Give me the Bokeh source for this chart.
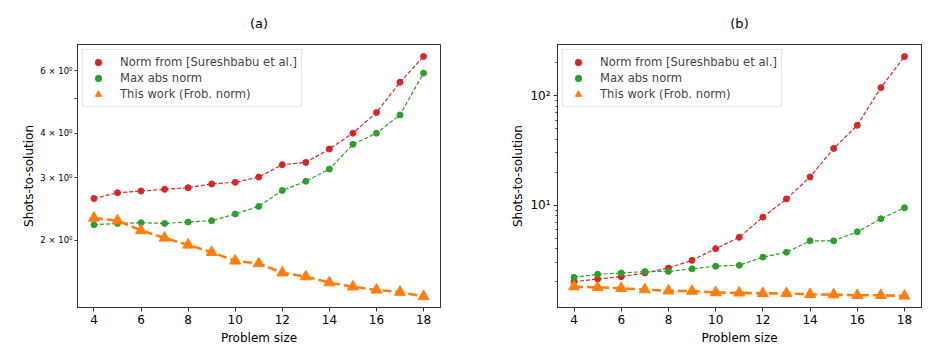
from bokeh.plotting import figure
from bokeh.layouts import row
from bokeh.models import FixedTicker, CustomJSTickFormatter, Range1d, Legend, LegendItem
from bokeh.embed import file_html
from bokeh.resources import INLINE

sizes = list(range(4, 19))

# Panel (a)
a_norm_sureshbabu = [2.62, 2.72, 2.75, 2.78, 2.81, 2.88, 2.91, 3.01, 3.26, 3.31, 3.61, 4.00, 4.57, 5.56, 6.57]
a_max_abs = [2.21, 2.23, 2.24, 2.23, 2.25, 2.27, 2.37, 2.49, 2.76, 2.93, 3.17, 3.72, 4.00, 4.50, 5.90]
a_frob = [2.31, 2.27, 2.13, 2.03, 1.94, 1.85, 1.75, 1.72, 1.62, 1.58, 1.52, 1.48, 1.45, 1.43, 1.39]

# Panel (b)
b_norm_sureshbabu = [2.00, 2.11, 2.22, 2.40, 2.66, 3.13, 4.00, 5.08, 7.77, 11.4, 18.1, 33.0, 53.7, 118.6, 228.0]
b_max_abs = [2.19, 2.33, 2.40, 2.47, 2.48, 2.62, 2.77, 2.82, 3.35, 3.71, 4.72, 4.72, 5.71, 7.50, 9.47]
b_frob = [1.80, 1.77, 1.74, 1.69, 1.65, 1.64, 1.59, 1.58, 1.56, 1.56, 1.53, 1.52, 1.50, 1.50, 1.48]

x_ticks = [4, 6, 8, 10, 12, 14, 16, 18]
labels = ["Norm from [Sureshbabu et al.]", "Max abs norm", "This work (Frob. norm)"]

RED = "#d62728"
GREEN = "#2ca02c"
ORANGE = "#ff7f0e"
FONT = "DejaVu Sans"


def make_panel(title, red, green, orange, y_range, width, bl, br):
    p = figure(width=width, height=347, y_axis_type="log",
               x_range=Range1d(3.3, 18.72), y_range=Range1d(*y_range),
               output_backend="svg", toolbar_location=None,
               min_border_left=bl, min_border_right=br,
               min_border_top=44, min_border_bottom=33)
    p.title.text = title
    p.title.align = "center"
    p.title.text_font = FONT
    p.title.text_font_size = "13px"
    p.title.text_font_style = "normal"
    p.title.text_color = "#000000"
    p.title.offset = 0
    p.title.standoff = 27
    p.xgrid.visible = False
    p.ygrid.visible = False
    p.outline_line_color = "#333333"
    p.outline_line_width = 1
    p.outline_line_alpha = 1

    p.line(sizes, red, color=RED, line_width=1.2, line_dash="4 2")
    r1 = p.scatter(sizes, red, color=RED, size=6)
    p.line(sizes, green, color=GREEN, line_width=1.2, line_dash="4 2")
    r2 = p.scatter(sizes, green, color=GREEN, size=6)
    p.line(sizes, orange, color=ORANGE, line_width=2.6, line_dash="9 4")
    r3 = p.scatter(sizes, orange, color=ORANGE, size=11, marker="triangle")

    legend = Legend(items=[LegendItem(label=labels[0], renderers=[r1]),
                           LegendItem(label=labels[1], renderers=[r2]),
                           LegendItem(label=labels[2], renderers=[r3])],
                    location="top_left")
    legend.margin = 5
    legend.padding = 4
    legend.spacing = 0
    legend.label_text_font = FONT
    legend.label_text_font_size = "11.6px"
    legend.label_height = 16
    legend.glyph_height = 16
    legend.glyph_width = 22
    legend.label_standoff = 11
    legend.border_line_color = "#cccccc"
    legend.border_line_width = 1
    legend.background_fill_alpha = 0.85
    p.add_layout(legend)

    p.xaxis.ticker = FixedTicker(ticks=x_ticks)
    p.xaxis.axis_label = "Problem size"
    for ax in (p.xaxis, p.yaxis):
        ax.axis_label_text_font = FONT
        ax.axis_label_text_font_size = "12px"
        ax.axis_label_text_font_style = "normal"
        ax.axis_label_text_color = "#000000"
        ax.major_label_text_font = FONT
        ax.major_label_text_color = "#000000"
        ax.axis_line_color = "#333333"
        ax.major_tick_line_color = "#333333"
        ax.minor_tick_line_color = "#333333"
        ax.major_tick_in = 0
        ax.major_tick_out = 4
        ax.minor_tick_in = 0
        ax.minor_tick_out = 2
    p.xaxis.major_label_text_font_size = "12px"
    p.xaxis.axis_label_standoff = 4
    p.xaxis.major_label_standoff = 3
    p.yaxis.axis_label = "Shots-to-solution"
    return p


pa = make_panel("(a)", a_norm_sureshbabu, a_max_abs, a_frob, (1.294, 7.10), 470, 77, 30)
pa.yaxis.ticker = FixedTicker(ticks=[2, 3, 4, 5, 6], minor_ticks=[])
pa.yaxis.formatter = CustomJSTickFormatter(code="""
const m = {2: "2 \u00d7 10\u2070", 3: "3 \u00d7 10\u2070", 4: "4 \u00d7 10\u2070", 6: "6 \u00d7 10\u2070"};
const k = Math.round(tick);
return (k in m) ? m[k] : "";
""")
pa.yaxis.major_tick_out = 3
pa.yaxis.major_label_text_font_size = "8.5px"
pa.yaxis.major_label_standoff = 2
pa.yaxis.axis_label_standoff = 1

pb = make_panel("(b)", b_norm_sureshbabu, b_max_abs, b_frob, (1.16, 294), 477, 87, 26)
minor_b = [2, 3, 4, 5, 6, 7, 8, 9, 20, 30, 40, 50, 60, 70, 80, 90, 200]
pb.yaxis.ticker = FixedTicker(ticks=[10, 100], minor_ticks=minor_b)
pb.yaxis.formatter = CustomJSTickFormatter(code="""
return tick >= 50 ? "10\u00b2" : "10\u00b9";
""")
pb.yaxis.major_label_text_font_size = "12px"
pb.yaxis.major_label_standoff = 3
pb.yaxis.axis_label_standoff = 2

layout = row(pa, pb)
open("out.html", "w").write(file_html(layout, INLINE))
